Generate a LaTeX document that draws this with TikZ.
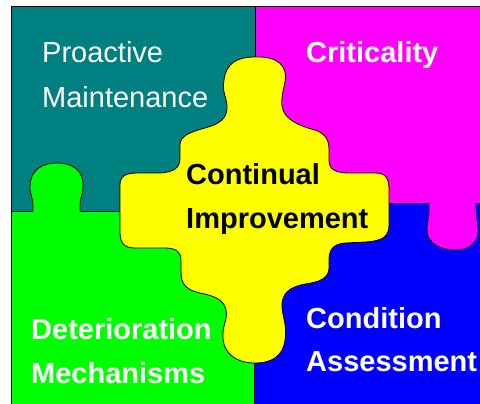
\documentclass[tikz,border=0pt]{standalone}
\usepackage{fontspec}
\setmainfont{Liberation Sans}
\definecolor{teal2}{RGB}{0,128,128}
\definecolor{mag}{RGB}{255,0,255}
\definecolor{grn}{RGB}{0,255,0}
\definecolor{blu}{RGB}{0,0,255}
\definecolor{yel}{RGB}{255,255,0}
\tikzset{
  piece/.style={draw=black, line width=0.8pt},
  lbl/.style={anchor=base west, inner sep=0pt, font=\fontsize{29}{34}\selectfont},
  blbl/.style={lbl, font=\fontsize{29}{34}\selectfont\bfseries}
}
\begin{document}
\begin{tikzpicture}[x=1pt,y=-1pt]
\useasboundingbox (0,0) rectangle (480,404);
% quadrants
\fill[teal2] (11,6) rectangle (255,211);
\fill[mag] (255,6) rectangle (482,203);
\fill[grn] (11,211) rectangle (254,406);
\fill[blu] (254,203) rectangle (482,406);
\draw[piece] (482,6) -- (11,6) -- (11,406);
\draw[piece] (255,6) -- (255,80);
\draw[piece] (11,211) -- (125,211);
\draw[piece] (254,340) -- (254,406);
\draw[piece] (385,203) -- (482,203);
% green knob
\fill[grn] (33,212.5) -- (33,205) .. controls (33,198) and (30,195) .. (30,187)
  .. controls (30,170) and (42,163) .. (57,163)
  .. controls (72,163) and (84,170) .. (83,187)
  .. controls (83,195) and (80,198) .. (80,205) -- (80,212.5) -- cycle;
\draw[piece] (33,211) -- (33,205) .. controls (33,198) and (30,195) .. (30,187)
  .. controls (30,170) and (42,163) .. (57,163)
  .. controls (72,163) and (84,170) .. (83,187)
  .. controls (83,195) and (80,198) .. (80,205) -- (80,211);
% magenta knob
\fill[mag] (429,201.5) -- (429,210) .. controls (429,218) and (427,222) .. (427,230)
  .. controls (427,243) and (440,250) .. (455,250)
  .. controls (470,250) and (479,242) .. (478,228)
  .. controls (477,218) and (476,212) .. (476,208) -- (476,201.5) -- cycle;
\draw[piece] (429,203) -- (429,210) .. controls (429,218) and (427,222) .. (427,230)
  .. controls (427,243) and (440,250) .. (455,250)
  .. controls (470,250) and (479,242) .. (478,228)
  .. controls (477,218) and (476,212) .. (476,208) -- (476,203);
% yellow centre piece
\path[piece, fill=yel] (255,57)
  .. controls (278,56) and (288,66) .. (285,82)
  .. controls (283,92) and (281,98) .. (282,106)
  .. controls (284,120) and (300,126) .. (315,130)
  .. controls (326,134) and (329,140) .. (329,150)
  -- (329,160)
  .. controls (329,170) and (336,173) .. (350,173)
  -- (375,173)
  .. controls (386,173) and (389,178) .. (389,190)
  -- (389,225)
  .. controls (389,237) and (382,241) .. (365,242)
  -- (345,243)
  .. controls (333,244) and (329,250) .. (329,260)
  -- (329,268)
  .. controls (329,278) and (320,282) .. (305,284)
  .. controls (290,287) and (281,293) .. (282,308)
  .. controls (283,318) and (287,325) .. (285,340)
  .. controls (283,356) and (272,363) .. (255,363)
  .. controls (238,363) and (224,355) .. (223,338)
  .. controls (222,325) and (228,320) .. (226,310)
  .. controls (224,300) and (215,296) .. (200,293)
  .. controls (186,290) and (181,284) .. (181,272)
  -- (181,260)
  .. controls (181,252) and (176,248) .. (165,248)
  -- (135,248)
  .. controls (124,248) and (120,243) .. (120,232)
  -- (120,185)
  .. controls (120,176) and (125,173) .. (138,173)
  -- (160,173)
  .. controls (174,172) and (180,168) .. (180,158)
  -- (180,145)
  .. controls (180,136) and (190,132) .. (205,128)
  .. controls (220,124) and (228,118) .. (227,105)
  .. controls (226,96) and (222,92) .. (224,80)
  .. controls (226,64) and (236,57) .. (255,57)
  -- cycle;
% labels
\node[lbl, text=white] (pro) at (42,63) {Proactive};
\node[lbl, text=white] (mai) at (42,107) {Maintenance};
\node[blbl, text=white] (cri) at (306,63) {Criticality};
\node[blbl, text=black] (con) at (186,185) {Continual};
\node[blbl, text=black] (imp) at (186,229) {Improvement};
\node[blbl, text=white] (det) at (31,339) {Deterioration};
\node[blbl, text=white] (mec) at (31,383) {Mechanisms};
\node[blbl, text=white] (cnd) at (306,328) {Condition};
\node[blbl, text=white] (ass) at (306,371) {Assessment};
\end{tikzpicture}
\end{document}
